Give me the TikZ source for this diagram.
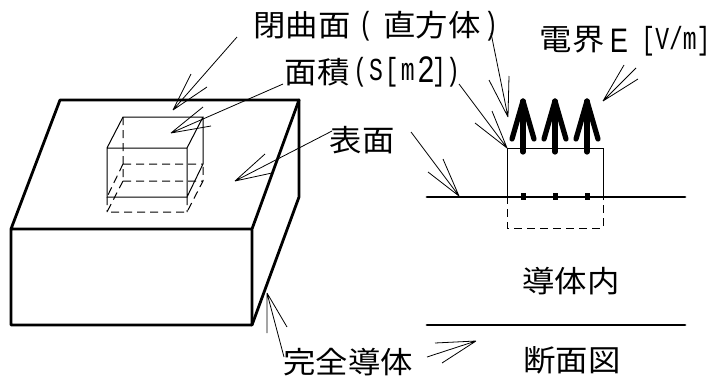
\documentclass[tikz,border=0pt]{standalone}
\usepackage{fontspec}
\setmainfont[FakeStretch=1.08]{Noto Sans CJK JP}
\newfontfamily\latn[FakeStretch=0.72]{Liberation Mono}
\newfontfamily\latns[FakeStretch=0.8]{Liberation Sans}
\newcommand{\bigf}{\fontsize{30}{32}\selectfont}
\newcommand{\latf}{\latn\fontsize{32}{34}\selectfont}
\tikzset{
  heavy/.style={line width=2.8pt,line cap=round,line join=round},
  thin box/.style={line width=1pt},
  thin dash/.style={line width=1pt,dash pattern=on 8pt off 5pt},
  leaderline/.style={line width=0.8pt},
  field/.style={line width=5.2pt,line cap=round,line join=round},
  lab/.style={inner sep=0pt,anchor=center,text=black,font=\bigf},
  latlab/.style={inner sep=0pt,anchor=center,text=black,font=\latf},
  sanslab/.style={inner sep=0pt,anchor=base,text=black,font=\latns\fontsize{34}{36}\selectfont},
}
\newcommand{\leader}[4]{\draw[leaderline] (#2) -- (#1) (#3) -- (#1) (#4) -- (#1);}
\begin{document}
\begin{tikzpicture}[x=1pt,y=-1pt]
\useasboundingbox (0,0) rectangle (715,378);
% block
\coordinate (tl) at (60,100); \coordinate (tr) at (299,100);
\coordinate (fr) at (252,229); \coordinate (fl) at (11,229);
\coordinate (bl) at (11,325); \coordinate (br) at (252,325);
\coordinate (rb) at (299,197);
\draw[heavy] (fl) -- (tl) -- (tr) -- (fr) -- (fl) -- (bl) -- (br) -- (fr);
\draw[heavy] (tr) -- (rb) -- (br);
% small box
\coordinate (a) at (123,117); \coordinate (b) at (203,117);
\coordinate (c) at (187,148); \coordinate (d) at (107,148);
\coordinate (e) at (107,197); \coordinate (f) at (187,197);
\coordinate (g) at (203,164); \coordinate (h) at (123,164);
\coordinate (i) at (123,181); \coordinate (j) at (203,181);
\coordinate (k) at (107,212); \coordinate (l) at (187,212);
\draw[thin box] (d) -- (a) -- (b) -- (c) -- (d) -- (e) -- (f) -- (c) (b) -- (g) -- (f);
\draw[thin dash] (a) -- (i) (h) -- (g) (i) -- (j) (h) -- (e) (i) -- (k) -- (l) -- (j) -- (g) (e) -- (k) (f) -- (l);
% section
\coordinate (s1) at (507,148); \coordinate (s2) at (603,148);
\coordinate (s3) at (603,196); \coordinate (s4) at (507,196);
\coordinate (s5) at (507,228); \coordinate (s6) at (603,228);
\draw[thin box] (s4) -- (s1) -- (s2) -- (s3);
\draw[thin dash] (s4) -- (s5) -- (s6) -- (s3);
\coordinate (g1) at (427,197); \coordinate (g2) at (685,197);
\coordinate (u1) at (427,325); \coordinate (u2) at (685,325);
\draw[heavy] (g1) -- (g2);
\draw[heavy] (u1) -- (u2);
% field arrows
\foreach \x in {523,555,587}{
  \draw[field] (\x,152) -- (\x,101);
  \draw[field] (\x-11,139) -- (\x,101) -- (\x+11,139);
  \fill (\x-2.5,193.2) rectangle (\x+2.5,200.2);
}
% labels
\node[lab] (n1) at (302,25) {閉曲面};
\node[latlab] (p1) at (366,26) {(};
\node[lab] (n2) at (432,25) {直方体};
\node[latlab] (p2) at (491,26) {)};
\node[lab] (n3) at (317,72) {面積};
\node[latlab] (n4) at (384,72) {(\kern2pt S\kern2pt[\kern2pt m};
\node[sanslab,font=\latns\fontsize{37}{39}\selectfont] (n5) at (426,82) {2};
\node[latlab] (n6) at (446,72) {])};
\node[lab] (n7) at (362,140) {表面};
\node[lab] (n8) at (572,40) {電界};
\node[sanslab] (n9) at (619,52) {E};
\node[latlab] (n10) at (676,41) {[V/m]};
\node[lab] (n11) at (571,281) {導体内};
\node[lab] (n12) at (572,360) {断面図};
\node[lab] (n13) at (348,362) {完全導体};
% leaders
\leader{173,110}{237,37}{191,74}{207,87}
\leader{171,133}{283,84}{203,107}{211,126}
\leader{235,181}{332,131}{265,154}{272,173}
\leader{508,117}{491,33}{489,80}{509,76}
\leader{507,148}{459,84}{475,123}{492,111}
\leader{459,196}{411,132}{428,172}{443,159}
\leader{603,101}{638,79}{624,65}{636,68}
\leader{267,293}{284,357}{267,333}{287,327}
\leader{476,341}{427,357}{435,343}{442,363}
\end{tikzpicture}
\end{document}
